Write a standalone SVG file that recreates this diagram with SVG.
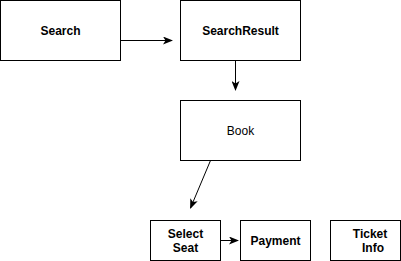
<svg xmlns="http://www.w3.org/2000/svg" width="401" height="261" viewBox="0 0 401 261">
  <defs>
    <marker id="arrow" viewBox="0 0 10 8" refX="9" refY="4" markerWidth="10" markerHeight="8" markerUnits="userSpaceOnUse" orient="auto">
      <path d="M0,0 L10,4 L0,8 L2.5,4 z" fill="#000"/>
    </marker>
    <style>
      .box { fill: #fff; stroke: #000; stroke-width: 1; }
      .lbl { font-family: "Liberation Sans", Arial, sans-serif; font-size: 12px; fill: #000; text-anchor: middle; }
      .b { font-weight: bold; }
      .edge { fill: none; stroke: #000; stroke-width: 1; marker-end: url(#arrow); }
    </style>
  </defs>
  <rect width="401" height="261" fill="#fff"/>

  <g id="connectors">
    <line class="edge" x1="120.5" y1="40.5" x2="172" y2="40.5"/>
    <line class="edge" x1="235.5" y1="60.5" x2="235.5" y2="90"/>
    <line class="edge" x1="210.5" y1="160.5" x2="190.5" y2="208"/>
    <line class="edge" x1="220.5" y1="240.5" x2="238" y2="240.5"/>
  </g>

  <g id="search">
    <rect class="box" x="0.5" y="0.5" width="120" height="60"/>
    <text class="lbl b" x="60.5" y="34.5">Search</text>
  </g>
  <g id="search-result">
    <rect class="box" x="180.5" y="0.5" width="120" height="60"/>
    <text class="lbl b" x="240.5" y="34.5">SearchResult</text>
  </g>
  <g id="book">
    <rect class="box" x="180.5" y="100.5" width="120" height="60"/>
    <text class="lbl" x="240.5" y="134.5">Book</text>
  </g>
  <g id="select-seat">
    <rect class="box" x="150.5" y="220.5" width="70" height="40"/>
    <text class="lbl b" x="185.5" y="238">Select</text>
    <text class="lbl b" x="185.5" y="252">Seat</text>
  </g>
  <g id="payment">
    <rect class="box" x="240.5" y="220.5" width="70" height="40"/>
    <text class="lbl b" x="275.5" y="245">Payment</text>
  </g>
  <g id="ticket-info">
    <rect class="box" x="330.5" y="220.5" width="70" height="40"/>
    <text class="lbl b" x="370" y="238">Ticket</text>
    <text class="lbl b" x="373" y="252">Info</text>
  </g>
</svg>
